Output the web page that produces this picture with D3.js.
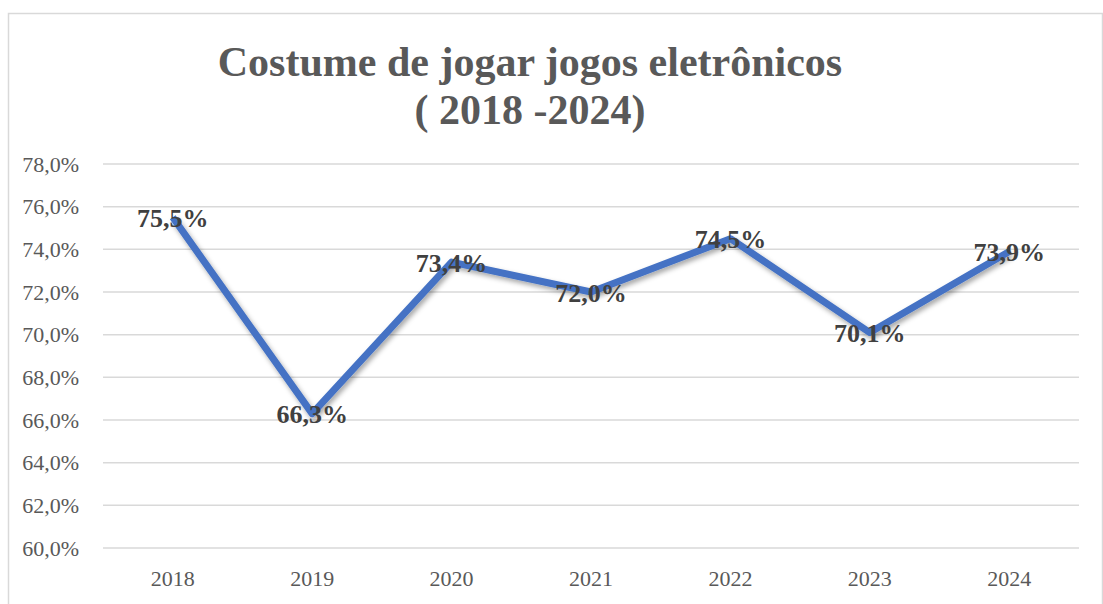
<!DOCTYPE html>
<html>
<head>
<meta charset="utf-8">
<script src="https://cdn.jsdelivr.net/npm/d3@7"></script>
<style>
  body { margin: 0; background: #fff; }
  svg text { font-family: "Liberation Serif", "Times New Roman", serif; }
</style>
</head>
<body>
<div id="chart"></div>
<script>
var years = ["2018", "2019", "2020", "2021", "2022", "2023", "2024"];
var values = [75.5, 66.3, 73.4, 72.0, 74.5, 70.1, 73.9];
var yTicks = [60, 62, 64, 66, 68, 70, 72, 74, 76, 78];
var titleLines = ["Costume de jogar jogos eletrônicos", "( 2018 -2024)"];

var width = 1103,
    height = 604;

var margin = { top: 164, right: 24, bottom: 56, left: 103 };

var svg = d3.select("#chart").append("svg")
    .attr("width", width)
    .attr("height", height);

// outer frame
svg.append("rect")
    .attr("x", 8.5).attr("y", 13.5)
    .attr("width", 1094).attr("height", 620)
    .attr("fill", "#fff")
    .attr("stroke", "#d9d9d9")
    .attr("stroke-width", 1.5);

var defs = svg.append("defs");
var shadow = defs.append("filter").attr("id", "shadow")
    .attr("x", "-10%").attr("y", "-10%").attr("width", "120%").attr("height", "130%");
shadow.append("feDropShadow")
    .attr("dx", 2).attr("dy", 3)
    .attr("stdDeviation", 2.5)
    .attr("flood-color", "#000")
    .attr("flood-opacity", 0.35);

var x = d3.scaleBand()
    .domain(years)
    .range([margin.left, width - margin.right]);

var y = d3.scaleLinear()
    .domain([60, 78])
    .range([height - margin.bottom, margin.top]);

// gridlines
svg.append("g")
    .selectAll("line")
    .data(yTicks)
    .enter().append("line")
    .attr("x1", margin.left)
    .attr("x2", width - margin.right)
    .attr("y1", function(d) { return y(d); })
    .attr("y2", function(d) { return y(d); })
    .attr("stroke", "#d9d9d9")
    .attr("stroke-width", 1.5);

// y axis labels
var yAxis = d3.axisLeft(y)
    .tickValues(yTicks)
    .tickSize(0)
    .tickPadding(0)
    .tickFormat(function(d) { return d.toFixed(1).replace(".", ",") + "%"; });

var yg = svg.append("g")
    .attr("transform", "translate(79,0)")
    .call(yAxis);
yg.select(".domain").remove();
yg.selectAll("text")
    .attr("fill", "#595959")
    .style("font-size", "22px")
    .style("font-family", "'Liberation Serif', 'Times New Roman', serif");

// x axis labels
var xAxis = d3.axisBottom(x).tickSize(0).tickPadding(0);
var xg = svg.append("g")
    .attr("transform", "translate(0," + (height - margin.bottom) + ")")
    .call(xAxis);
xg.select(".domain").remove();
xg.selectAll("text")
    .attr("dy", null)
    .attr("y", 38)
    .attr("fill", "#595959")
    .style("font-size", "22px")
    .style("font-family", "'Liberation Serif', 'Times New Roman', serif");

// line
var line = d3.line()
    .x(function(d, i) { return x(years[i]) + x.bandwidth() / 2; })
    .y(function(d) { return y(d); });

svg.append("path")
    .datum(values)
    .attr("d", line)
    .attr("fill", "none")
    .attr("stroke", "#4472c4")
    .attr("stroke-width", 7)
    .attr("stroke-linejoin", "round")
    .attr("filter", "url(#shadow)");

// data labels
svg.append("g")
    .selectAll("text")
    .data(values)
    .enter().append("text")
    .attr("x", function(d, i) { return x(years[i]) + x.bandwidth() / 2; })
    .attr("y", function(d) { return y(d) + 9.5; })
    .attr("text-anchor", "middle")
    .attr("fill", "#404040")
    .style("font-size", "26px")
    .style("font-weight", "bold")
    .text(function(d) { return d.toFixed(1).replace(".", ",") + "%"; });

// title
svg.append("g")
    .selectAll("text")
    .data(titleLines)
    .enter().append("text")
    .attr("x", 530)
    .attr("y", function(d, i) { return 76 + i * 48; })
    .attr("text-anchor", "middle")
    .attr("fill", "#595959")
    .style("font-size", "42px")
    .style("font-weight", "bold")
    .text(function(d) { return d; });
</script>
</body>
</html>
